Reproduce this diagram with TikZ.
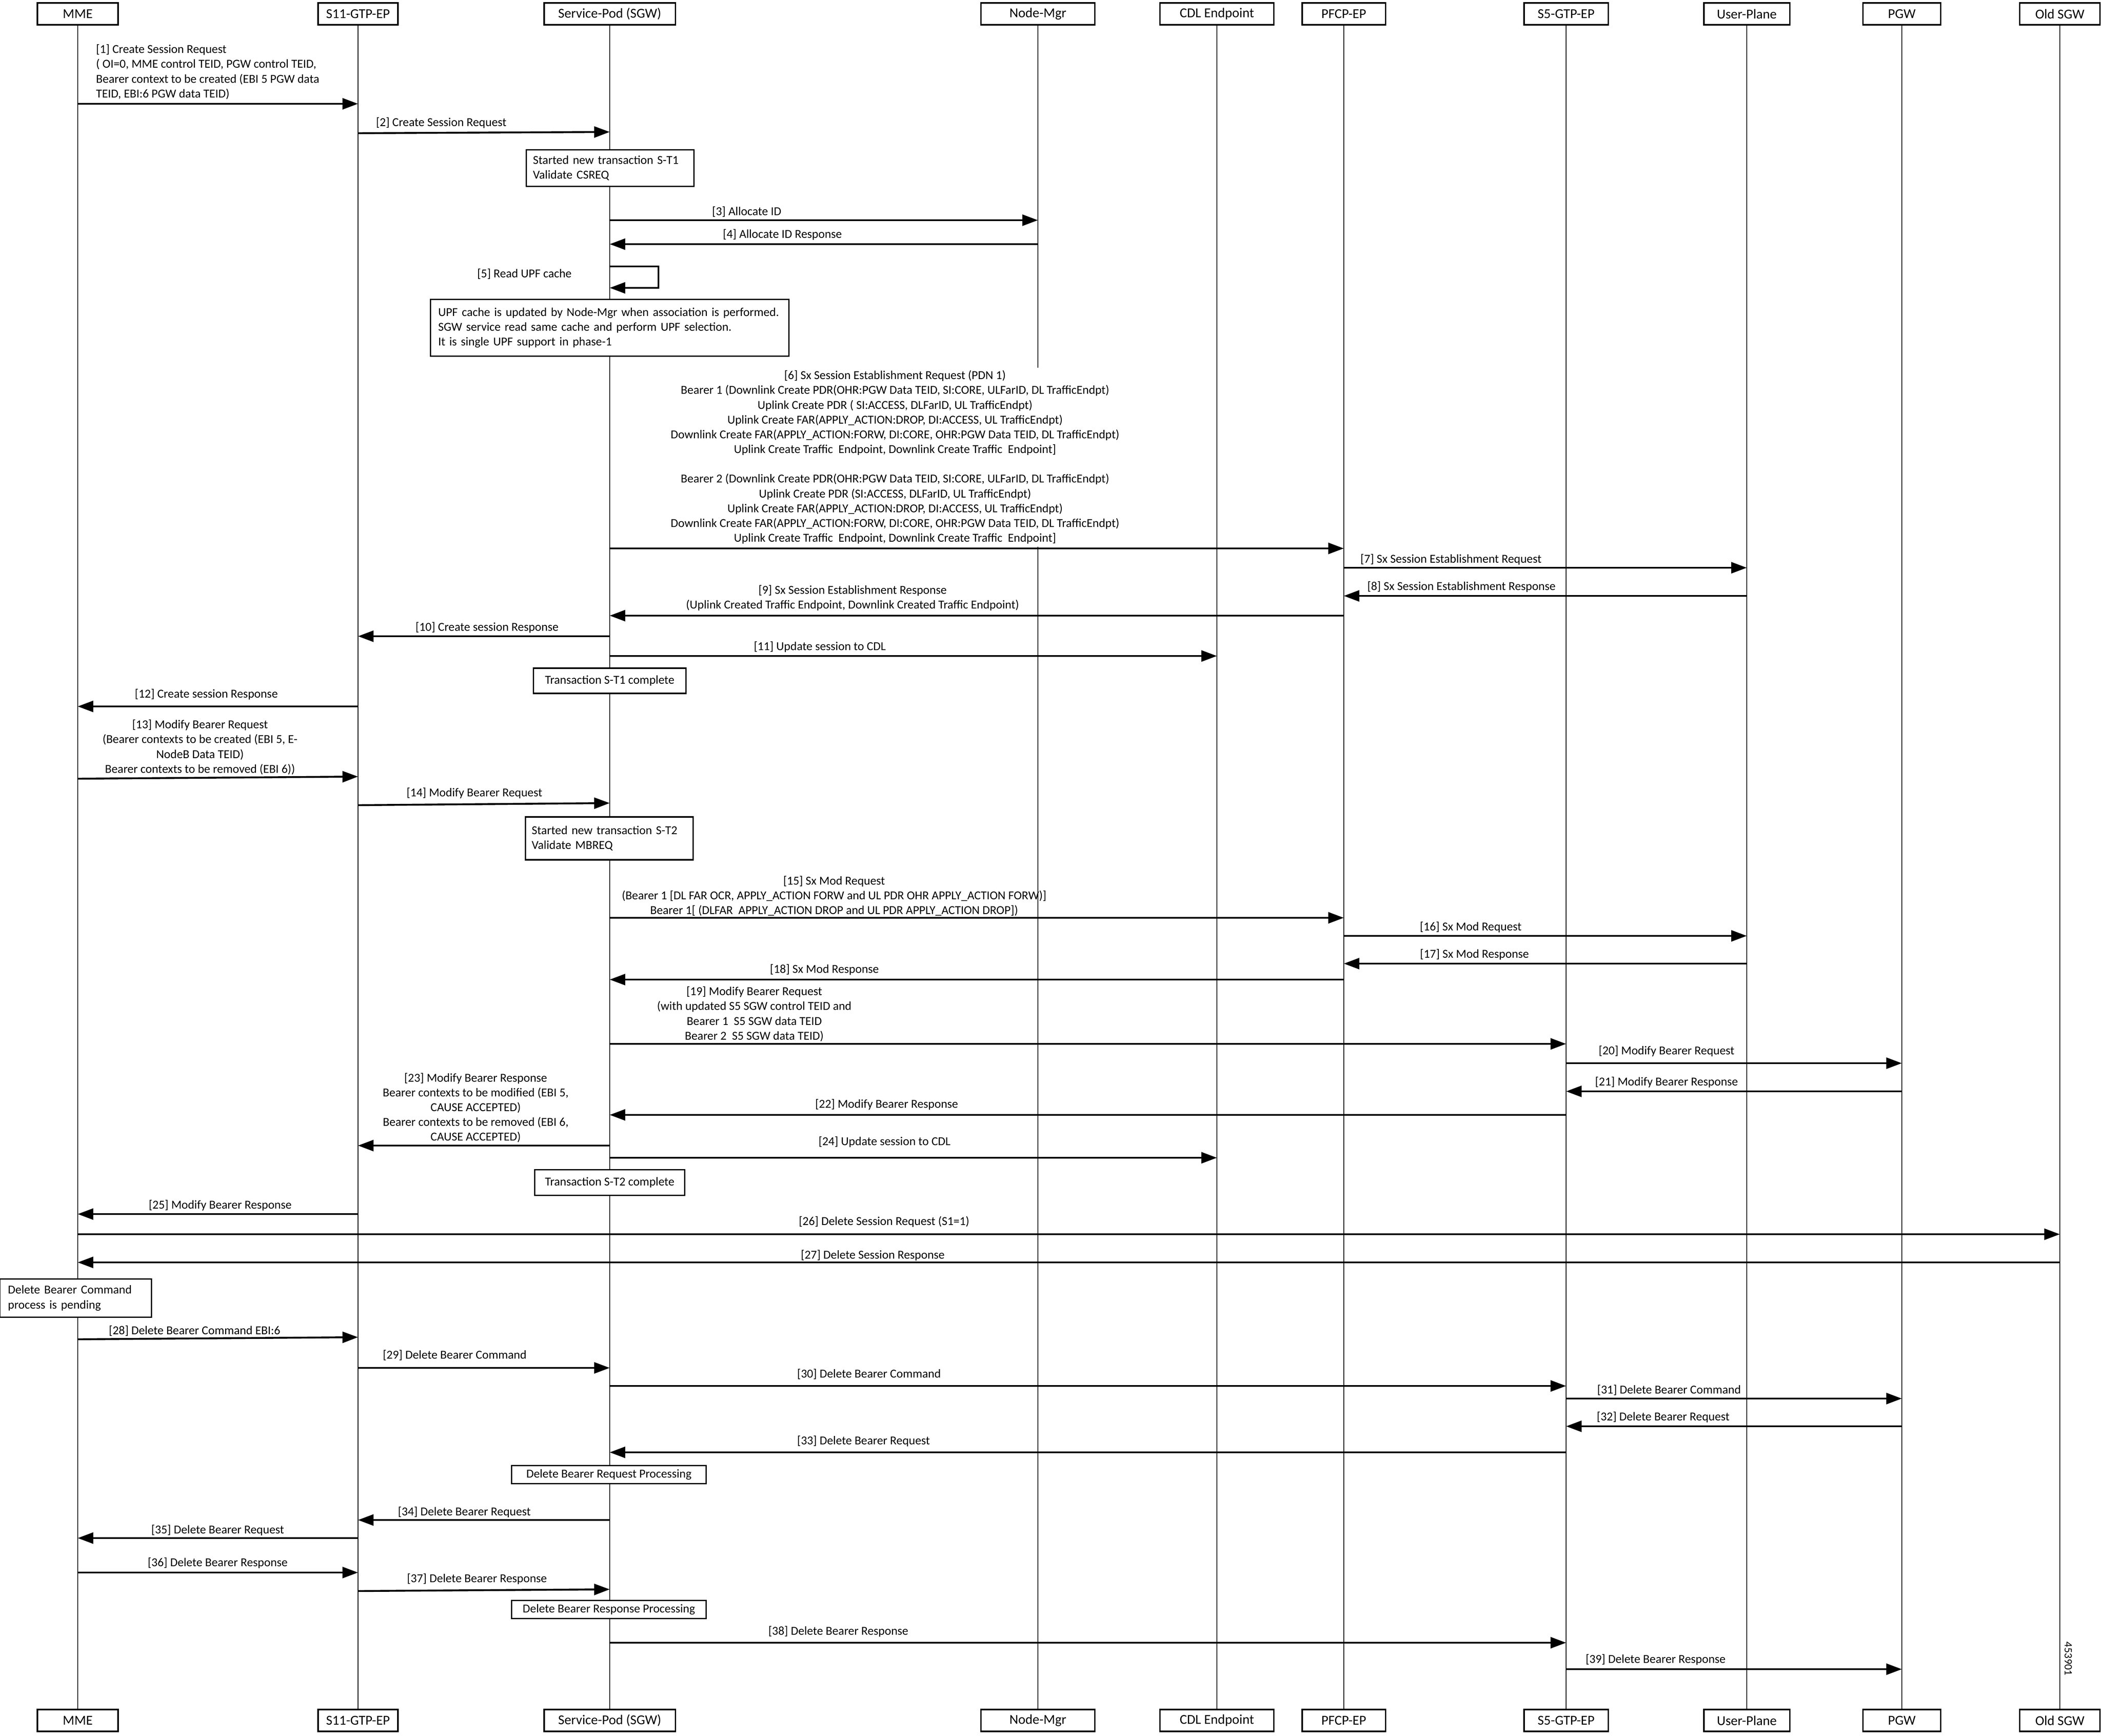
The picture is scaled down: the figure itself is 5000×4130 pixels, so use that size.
\documentclass[tikz,border=0pt]{standalone}
\usepackage{fontspec}
\setmainfont{Carlito}
\usetikzlibrary{positioning,arrows.meta}

\begin{document}
\begin{tikzpicture}[x=0.01cm,y=-0.01cm,
    actor/.style={draw,line width=0.9pt,fill=white,minimum height=0.52cm,inner sep=0,font=\fontsize{9.2}{11}\selectfont},
    life/.style={line width=0.8pt},
    msg/.style={line width=1.25pt,-{Triangle[length=10.5pt,width=7.5pt]}},
    lbl/.style={inner sep=0,font=\fontsize{8.2}{10}\selectfont,align=center},
    note/.style={draw,line width=0.9pt,fill=white,inner sep=0,font=\fontsize{8.2}{10}\selectfont}]

    \fill[white] (0,0) rectangle (5000,4130);
    \useasboundingbox (0,0) rectangle (5000,4130);

    % actors and lifelines
    \foreach \n/\x/\w/\t in {mme/185/1.92/MME, s11/852/1.90/S11-GTP-EP, sgw/1451/3.12/Service-Pod (SGW), nmg/2470/2.71/Node-Mgr, cdl/2896/2.71/CDL Endpoint, pfcp/3198/1.98/PFCP-EP, s5/3727/2.00/S5-GTP-EP, up/4157/2.04/User-Plane, pgw/4526/1.85/PGW, old/4902/1.91/Old SGW}
    {
        \node[actor,minimum width=\w cm] (top\n) at (\x,33) {\t};
        \node[actor,minimum width=\w cm] (bot\n) at (\x,4094) {\t};
        \draw[life] (top\n) -- (bot\n);
    }

    % messages
    \foreach \a/\b/\ya/\yb in {mme/s11/247/247, s11/sgw/317/314, sgw/nmg/524/524, nmg/sgw/581/581, sgw/pfcp/1305/1305, pfcp/up/1351/1351, up/pfcp/1418/1418, pfcp/sgw/1465/1465, sgw/s11/1514/1514, sgw/cdl/1561/1561, s11/mme/1681/1681, mme/s11/1853/1848, s11/sgw/1916/1911, sgw/pfcp/2184/2184, pfcp/up/2227/2227, up/pfcp/2293/2293, pfcp/sgw/2331/2331, sgw/s5/2484/2484, s5/pgw/2530/2530, pgw/s5/2597/2597, s5/sgw/2653/2653, sgw/s11/2726/2726, sgw/cdl/2755/2755, s11/mme/2889/2889, mme/old/2937/2937, old/mme/3004/3004, mme/s11/3187/3182, s11/sgw/3255/3255, sgw/s5/3298/3298, s5/pgw/3328/3328, pgw/s5/3394/3394, s5/sgw/3456/3456, sgw/s11/3617/3617, s11/mme/3660/3660, mme/s11/3742/3742, s11/sgw/3786/3782, sgw/s5/3909/3909, s5/pgw/3972/3972}
        \draw[msg] (top\a |- 0,\ya) -- (top\b |- 0,\yb);

    % read UPF cache
    \coordinate (loop5) at (1567,634);
    \draw[msg] (topsgw |- loop5) -- (loop5) |- (topsgw |- 0,685);

    % notes
    \node[note,minimum width=3.99cm,minimum height=0.87cm,text width=3.67cm,align=left] (st1) at (1452,400) {Started new transaction S-T1\\Validate CSREQ};
    \node[note,minimum width=8.52cm,minimum height=1.35cm,text width=8.16cm,align=left] (upf) at (1451,780) {UPF cache is updated by Node-Mgr when association is performed.\\SGW service read same cache and perform UPF selection.\\It is single UPF support in phase-1};
    \node[note,minimum width=3.63cm,minimum height=0.60cm] (st1c) at (1451,1620) {Transaction S-T1 complete};
    \node[note,minimum width=3.99cm,minimum height=1.02cm,text width=3.69cm,align=left] (st2) at (1450,1995) {Started new transaction S-T2\\Validate MBREQ};
    \node[note,minimum width=3.57cm,minimum height=0.61cm] (st2c) at (1451,2814) {Transaction S-T2 complete};
    \node[note,minimum width=3.60cm,minimum height=0.91cm,text width=3.22cm,align=left] (dbc) at (180,3089) {Delete Bearer Command\\process is pending};
    \node[note,minimum width=4.63cm,minimum height=0.43cm] (dbrq) at (1449,3509) {Delete Bearer Request Processing};
    \node[note,minimum width=4.63cm,minimum height=0.43cm] (dbrs) at (1449,3830) {Delete Bearer Response Processing};

    % single line labels
    \foreach \n/\x/\y/\t in {2/1050/292/{[2] Create Session Request}, 3/1777/504/{[3] Allocate ID}, 4/1862/558/{[4] Allocate ID Response}, 5/1248/652/{[5] Read UPF cache}, 7/3453/1331/{[7] Sx Session Establishment Request}, 8/3478/1396/{[8] Sx Session Establishment Response}, 10/1159/1493/{[10] Create session Response}, 11/1951/1539/{[11] Update session to CDL}, 12/491/1652/{[12] Create session Response}, 14/1129/1887/{[14] Modify Bearer Request}, 16/3500/2206/{[16] Sx Mod Request}, 17/3509/2271/{[17] Sx Mod Response}, 18/1962/2307/{[18] Sx Mod Response}, 20/3966/2501/{[20] Modify Bearer Request}, 21/3966/2575/{[21] Modify Bearer Response}, 22/2110/2628/{[22] Modify Bearer Response}, 24/2105/2717/{[24] Update session to CDL}, 25/524/2868/{[25] Modify Bearer Response}, 26/2104/2907/{[26] Delete Session Request (S1=1)}, 27/2077/2987/{[27] Delete Session Response}, 28/463/3167/{[28] Delete Bearer Command EBI:6}, 29/1082/3225/{[29] Delete Bearer Command}, 30/2068/3270/{[30] Delete Bearer Command}, 31/3972/3308/{[31] Delete Bearer Command}, 32/3958/3372/{[32] Delete Bearer Request}, 33/2055/3429/{[33] Delete Bearer Request}, 34/1105/3598/{[34] Delete Bearer Request}, 35/518/3641/{[35] Delete Bearer Request}, 36/518/3719/{[36] Delete Bearer Response}, 37/1135/3757/{[37] Delete Bearer Response}, 38/1995/3882/{[38] Delete Bearer Response}, 39/3940/3949/{[39] Delete Bearer Response}}
        \node[lbl] (lab\n) at (\x,\y) {\t};

    % multi line labels
    \node[lbl,align=left,anchor=west] (lab1) at (228,171) {[1] Create Session Request\\( OI=0, MME control TEID, PGW control TEID,\\Bearer context to be created (EBI 5 PGW data\\TEID, EBI:6 PGW data TEID)};
    \node[lbl,fill=white,inner sep=2pt] (lab6) at (2130,1088) {[6] Sx Session Establishment Request (PDN 1)\\Bearer 1 (Downlink Create PDR(OHR:PGW Data TEID, SI:CORE, ULFarID, DL TrafficEndpt)\\Uplink Create PDR ( SI:ACCESS, DLFarID, UL TrafficEndpt)\\Uplink Create FAR(APPLY\_ACTION:DROP, DI:ACCESS, UL TrafficEndpt)\\Downlink Create FAR(APPLY\_ACTION:FORW, DI:CORE, OHR:PGW Data TEID, DL TrafficEndpt)\\Uplink Create Traffic\ \ Endpoint, Downlink Create Traffic\ \ Endpoint]\\[10pt]Bearer 2 (Downlink Create PDR(OHR:PGW Data TEID, SI:CORE, ULFarID, DL TrafficEndpt)\\Uplink Create PDR (SI:ACCESS, DLFarID, UL TrafficEndpt)\\Uplink Create FAR(APPLY\_ACTION:DROP, DI:ACCESS, UL TrafficEndpt)\\Downlink Create FAR(APPLY\_ACTION:FORW, DI:CORE, OHR:PGW Data TEID, DL TrafficEndpt)\\Uplink Create Traffic\ \ Endpoint, Downlink Create Traffic\ \ Endpoint]};
    \node[lbl] (lab9) at (2029,1423) {[9] Sx Session Establishment Response\\(Uplink Created Traffic Endpoint, Downlink Created Traffic Endpoint)};
    \node[lbl] (lab13) at (476,1778) {[13] Modify Bearer Request\\(Bearer contexts to be created (EBI 5, E-\\NodeB Data TEID)\\Bearer contexts to be removed (EBI 6))};
    \node[lbl] (lab15) at (1985,2132) {[15] Sx Mod Request\\(Bearer 1 [DL FAR OCR, APPLY\_ACTION FORW and UL PDR OHR APPLY\_ACTION FORW)]\\Bearer 1[ (DLFAR\ \ APPLY\_ACTION DROP and UL PDR APPLY\_ACTION DROP])};
    \node[lbl] (lab19) at (1795,2413) {[19] Modify Bearer Request\\(with updated S5 SGW control TEID and\\Bearer 1\ \ S5 SGW data TEID\\Bearer 2\ \ S5 SGW data TEID)};
    \node[lbl] (lab23) at (1132,2636) {[23] Modify Bearer Response\\Bearer contexts to be modified (EBI 5,\\CAUSE ACCEPTED)\\Bearer contexts to be removed (EBI 6,\\CAUSE ACCEPTED)};

    % figure number
    \node[lbl,rotate=-90,font=\fontsize{7.5}{8}\selectfont] (figno) at (4922,3947) {453901};
\end{tikzpicture}
\end{document}
